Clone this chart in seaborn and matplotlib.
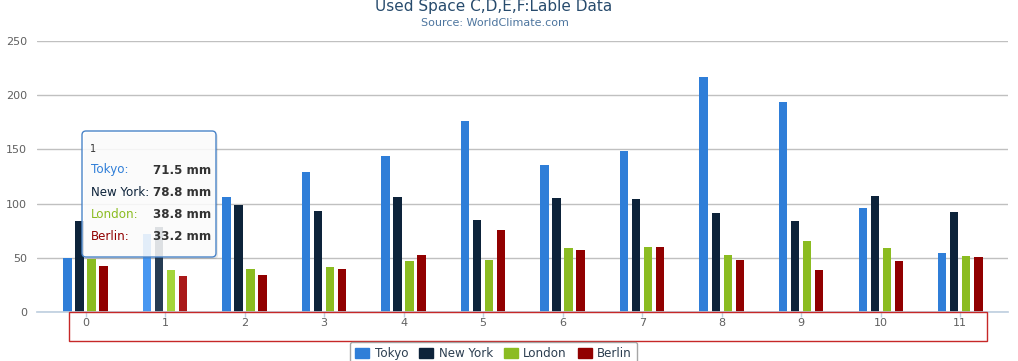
import numpy as np
import pandas as pd
import matplotlib
matplotlib.use("Agg")
import matplotlib.pyplot as plt
import seaborn as sns
from matplotlib.patches import Rectangle, FancyBboxPatch, Patch
from matplotlib.transforms import IdentityTransform

# ---------------- data ----------------
categories = [str(i) for i in range(12)]
tokyo = [49.9, 71.5, 106.4, 129.2, 144.0, 176.0, 135.6, 148.5, 216.4, 194.1, 95.6, 54.4]
new_york = [83.6, 78.8, 98.5, 93.4, 106.0, 84.5, 105.0, 104.3, 91.2, 83.5, 106.6, 92.3]
london = [48.9, 38.8, 39.3, 41.4, 47.0, 48.3, 59.0, 59.6, 52.4, 65.2, 59.3, 51.2]
berlin = [42.4, 33.2, 34.5, 39.7, 52.6, 75.5, 57.4, 60.4, 47.6, 39.1, 46.8, 51.1]
series_names = ['Tokyo', 'New York', 'London', 'Berlin']
series_colors = ['#2f7ed8', '#0d233a', '#8bbc21', '#910000']
hover_colors = ['#4897f1', '#263c53', '#a4d53a', '#aa1919']
hover_index = 1  # category shown in the tooltip

W, H = 1018, 361


def fx(px):
    return px / W


def fy(py):
    return 1 - py / H


values = [tokyo, new_york, london, berlin]
df = pd.DataFrame({
    'month': categories * 4,
    'city': np.repeat(series_names, len(categories)),
    'rain': np.concatenate(values),
})

sns.set_theme(style='white')
plt.rcParams['font.family'] = ['DejaVu Sans']

fig = plt.figure(figsize=(W / 100, H / 100), dpi=100)
ax = fig.add_axes([fx(37), fy(312), fx(1008) - fx(37), fy(41) - fy(312)])

sns.barplot(data=df, x='month', y='rain', hue='city', order=categories,
            hue_order=series_names, palette=dict(zip(series_names, series_colors)),
            width=0.604, gap=0.3, saturation=1, linewidth=0, errorbar=None,
            legend=False, ax=ax)

# hovered column gets the brighter shade
for cont, col in zip(ax.containers, hover_colors):
    cont[hover_index].set_facecolor(col)

ax.set_xlim(-0.61, 11.60)
ax.set_ylim(0, 250)
ax.set_yticks(range(0, 251, 50))
ax.set_xlabel('')
ax.set_ylabel('')
ax.yaxis.grid(True, color='#C0C0C0', linewidth=1)
ax.set_axisbelow(True)
for s in ['top', 'right', 'left']:
    ax.spines[s].set_visible(False)
ax.spines['bottom'].set_color('#C0D0E0')
ax.tick_params(axis='x', length=3.6, width=1, color='#C0D0E0', labelcolor='#606060',
               labelsize=8, pad=1, bottom=True)
ax.tick_params(axis='y', length=0, labelcolor='#606060', labelsize=8, pad=7)

# titles
fig.text(fx(493.5), fy(11), 'Used Space C,D,E,F:Lable Data', ha='center', va='baseline',
         fontsize=11, color='#274b6d')
fig.text(fx(494.5), fy(26), 'Source: WorldClimate.com', ha='center', va='baseline',
         fontsize=8, color='#4d759e')

# red frame round the x labels
fig.add_artist(Rectangle((fx(69), fy(341)), fx(987) - fx(69), fy(312) - fy(341),
                         transform=fig.transFigure, fill=False, edgecolor='#c62828',
                         linewidth=1, zorder=5))

# legend
handles = [Patch(facecolor=c, edgecolor=c, label=n) for n, c in zip(series_names, series_colors)]
leg = fig.legend(handles=handles, loc='upper center', bbox_to_anchor=(fx(493.5), fy(341.5)),
                 ncol=4, frameon=True, fontsize=8.6, handlelength=1.2, handleheight=0.9,
                 handletextpad=0.45, columnspacing=0.9, borderpad=0.45, borderaxespad=0,
                 fancybox=True, edgecolor='#909090', labelcolor='#2c3e50')
leg.get_frame().set_linewidth(1)

# tooltip
idt = IdentityTransform()
fig.add_artist(FancyBboxPatch((84, H - 259), 134, 126, boxstyle='round,pad=0,rounding_size=4',
                              transform=idt, facecolor='#000000', alpha=0.08,
                              edgecolor='none', zorder=6))
fig.add_artist(FancyBboxPatch((82, H - 257), 134, 126, boxstyle='round,pad=0,rounding_size=4',
                              transform=idt, facecolor=(1, 1, 1, 0.85), edgecolor='#4a84c8',
                              linewidth=1, zorder=7))
fig.text(90, H - 149, categories[hover_index], transform=idt, fontsize=7, color='#333333',
         va='center', zorder=8)
for i, (n, v, c) in enumerate(zip(series_names, values, series_colors)):
    yy = H - (170 + 22 * i)
    fig.text(91, yy, n + ':', transform=idt, fontsize=8.6, color=c, va='center', zorder=8)
    fig.text(153, yy, f'{v[hover_index]:.1f} mm', transform=idt, fontsize=8.6,
             fontweight='bold', color='#333333', va='center', zorder=8)

fig.savefig('out.png', dpi=100)
